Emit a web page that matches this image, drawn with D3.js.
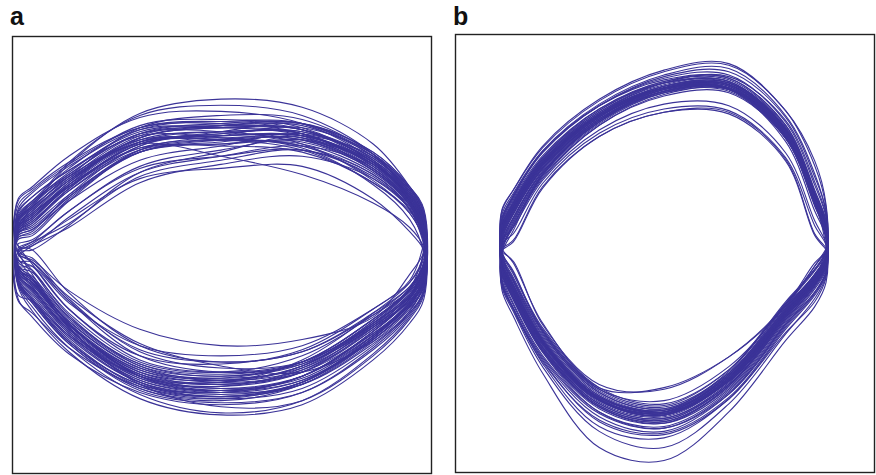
<!DOCTYPE html>
<html><head><meta charset="utf-8">
<script src="https://cdn.jsdelivr.net/npm/d3@7"></script>
<style>html,body{margin:0;padding:0;background:#fff;}svg{display:block;}</style>
</head><body>
<svg id="chart" width="876" height="475"></svg>
<script>
// Panel labels
const panelLabels = ["a", "b"];
// Shared horizontal stations (normalised units) at which each loop's arcs are read
const stations = [-1, -0.93, -0.75, -0.4, 0, 0.4, 0.75, 0.93, 1];
// Each loop: [upperLeft, upper x7 (-0.93..0.93), upperRight, lowerLeft, lower x7 (-0.93..0.93), lowerRight]
const loopsA = [
 [0.11, 0.18,0.31,0.50,0.54,0.51,0.35,0.20, 0.06, -0.10, -0.16,-0.35,-0.58,-0.64,-0.57,-0.36,-0.22, -0.10],
 [0.17, 0.24,0.37,0.57,0.58,0.52,0.34,0.18, 0.04, -0.05, -0.08,-0.29,-0.54,-0.60,-0.55,-0.37,-0.25, -0.14],
 [0.07, 0.10,0.24,0.44,0.51,0.57,0.45,0.28, 0.14, -0.13, -0.20,-0.40,-0.62,-0.65,-0.54,-0.31,-0.16, -0.02],
 [0.15, 0.21,0.36,0.60,0.66,0.64,0.47,0.30, 0.16, -0.08, -0.11,-0.31,-0.55,-0.60,-0.52,-0.32,-0.18, -0.06],
 [0.01, 0.04,0.13,0.36,0.44,0.49,0.37,0.20, 0.02, 0.00, -0.06,-0.25,-0.52,-0.60,-0.56,-0.38,-0.24, 0.01],
 [0.19, 0.26,0.39,0.56,0.55,0.50,0.32,0.15, -0.02, 0.02, 0.00,-0.21,-0.47,-0.55,-0.50,-0.32,-0.20, -0.12],
 [0.09, 0.14,0.30,0.52,0.57,0.58,0.44,0.27, 0.12, -0.16, -0.25,-0.45,-0.68,-0.74,-0.66,-0.44,-0.28, -0.18],
 [0.13, 0.21,0.42,0.67,0.74,0.70,0.52,0.31, 0.18, -0.09, -0.14,-0.36,-0.62,-0.70,-0.66,-0.46,-0.31, -0.20],
 [-0.01, 0.03,0.15,0.35,0.40,0.41,0.25,0.09, 0.00, -0.02, -0.10,-0.33,-0.56,-0.62,-0.55,-0.34,-0.19, -0.01],
 [0.10, 0.16,0.32,0.53,0.56,0.55,0.40,0.24, 0.10, -0.12, -0.19,-0.39,-0.63,-0.69,-0.62,-0.40,-0.24, -0.12],
 [0.16, 0.23,0.36,0.54,0.54,0.49,0.33,0.19, 0.07, -0.02, -0.05,-0.20,-0.39,-0.47,-0.44,-0.33,-0.12, -0.01],
 [0.06, 0.09,0.27,0.51,0.58,0.62,0.48,0.31, 0.20, -0.15, -0.24,-0.45,-0.66,-0.70,-0.62,-0.41,-0.26, -0.16],
 [0.12, 0.19,0.34,0.55,0.60,0.59,0.43,0.26, 0.09, -0.11, -0.17,-0.37,-0.60,-0.66,-0.60,-0.39,-0.23, -0.11],
 [0.20, 0.28,0.41,0.59,0.60,0.56,0.39,0.22, 0.05, -0.07, -0.14,-0.38,-0.66,-0.77,-0.74,-0.52,-0.34, -0.22],
 [0.08, 0.12,0.27,0.48,0.52,0.53,0.39,0.22, 0.08, -0.14, -0.22,-0.42,-0.65,-0.71,-0.65,-0.43,-0.27, -0.15],
 [-0.01, 0.00,0.12,0.38,0.48,0.56,0.46,0.30, 0.15, -0.08, -0.18,-0.40,-0.63,-0.67,-0.58,-0.36,-0.20, -0.07],
 [0.14, 0.22,0.43,0.66,0.71,0.66,0.47,0.25, 0.06, -0.09, -0.14,-0.34,-0.57,-0.62,-0.56,-0.35,-0.20, -0.08],
 [0.09, 0.15,0.31,0.52,0.56,0.56,0.42,0.26, 0.11, -0.17, -0.28,-0.48,-0.71,-0.80,-0.74,-0.51,-0.33, -0.21],
 [0.11, 0.17,0.32,0.50,0.51,0.48,0.33,0.18, 0.04, -0.11, -0.17,-0.37,-0.59,-0.63,-0.55,-0.34,-0.19, -0.07],
 [0.03, 0.05,0.19,0.41,0.49,0.54,0.42,0.24, 0.06, 0.02, -0.07,-0.29,-0.52,-0.56,-0.49,-0.29,-0.15, 0.04],
 [0.16, 0.24,0.40,0.61,0.64,0.60,0.43,0.26, 0.12, -0.06, -0.10,-0.32,-0.57,-0.64,-0.59,-0.39,-0.24, -0.12],
 [0.10, 0.16,0.33,0.55,0.60,0.59,0.45,0.29, 0.16, -0.14, -0.23,-0.43,-0.65,-0.70,-0.62,-0.40,-0.23, -0.09],
 [0.00, 0.04,0.19,0.40,0.46,0.49,0.36,0.20, 0.05, -0.01, -0.12,-0.36,-0.62,-0.69,-0.64,-0.44,-0.28, -0.14],
 [0.15, 0.22,0.37,0.57,0.60,0.57,0.41,0.24, 0.09, -0.08, -0.13,-0.33,-0.56,-0.61,-0.55,-0.34,-0.19, -0.06],
 [0.08, 0.11,0.26,0.48,0.53,0.55,0.42,0.27, 0.13, -0.18, -0.30,-0.50,-0.73,-0.81,-0.76,-0.54,-0.36, -0.24],
 [0.12, 0.18,0.34,0.56,0.61,0.61,0.46,0.29, 0.14, -0.12, -0.19,-0.39,-0.62,-0.67,-0.60,-0.38,-0.22, -0.10],
 [0.18, 0.26,0.39,0.58,0.61,0.59,0.43,0.25, 0.08, -0.05, -0.06,-0.25,-0.49,-0.55,-0.50,-0.31,-0.18, -0.07],
 [0.05, 0.07,0.24,0.49,0.56,0.60,0.47,0.30, 0.18, -0.15, -0.25,-0.45,-0.66,-0.72,-0.65,-0.44,-0.28, -0.17],
 [0.11, 0.16,0.31,0.52,0.55,0.54,0.39,0.23, 0.07, -0.11, -0.18,-0.38,-0.61,-0.66,-0.59,-0.37,-0.21, -0.09],
 [0.14, 0.21,0.35,0.53,0.54,0.51,0.37,0.21, 0.06, -0.09, -0.15,-0.36,-0.59,-0.65,-0.60,-0.41,-0.27, -0.15],
 [0.09, 0.13,0.29,0.51,0.57,0.58,0.44,0.28, 0.15, -0.17, -0.26,-0.46,-0.68,-0.73,-0.65,-0.42,-0.25, -0.13],
 [0.25, 0.31,0.46,0.65,0.68,0.62,0.44,0.24, 0.08, -0.01, -0.04,-0.24,-0.50,-0.58,-0.55,-0.36,-0.23, -0.13],
 [0.07, 0.10,0.26,0.49,0.54,0.54,0.40,0.23, 0.10, -0.13, -0.21,-0.41,-0.64,-0.70,-0.64,-0.43,-0.26, -0.14],
 [0.12, 0.19,0.35,0.57,0.62,0.62,0.47,0.30, 0.17, -0.24, -0.33,-0.51,-0.70,-0.76,-0.70,-0.48,-0.31, -0.19],
 [0.09, 0.14,0.29,0.49,0.52,0.52,0.38,0.22, 0.09, -0.12, -0.19,-0.39,-0.61,-0.65,-0.57,-0.35,-0.19, -0.07],
 [-0.03, 0.02,0.11,0.33,0.42,0.46,0.35,0.20, 0.04, -0.04, -0.14,-0.38,-0.65,-0.72,-0.66,-0.45,-0.29, -0.18],
 [0.15, 0.23,0.38,0.59,0.63,0.62,0.46,0.28, 0.13, -0.10, -0.16,-0.37,-0.60,-0.64,-0.57,-0.37,-0.23, -0.11],
 [0.06, 0.08,0.25,0.48,0.54,0.56,0.43,0.26, 0.11, -0.15, -0.24,-0.44,-0.67,-0.73,-0.68,-0.47,-0.30, -0.16],
 [0.11, 0.17,0.33,0.54,0.58,0.57,0.42,0.25, 0.10, -0.08, -0.08,-0.26,-0.47,-0.52,-0.47,-0.29,-0.16, -0.04],
 [0.22, 0.29,0.42,0.60,0.63,0.59,0.42,0.24, 0.07, -0.22, -0.25,-0.42,-0.62,-0.68,-0.62,-0.42,-0.27, -0.16],
 [0.08, 0.13,0.30,0.53,0.58,0.57,0.41,0.23, 0.05, -0.12, -0.20,-0.41,-0.64,-0.69,-0.62,-0.40,-0.24, -0.12],
 [0.14, 0.20,0.34,0.53,0.56,0.56,0.43,0.27, 0.14, -0.16, -0.26,-0.46,-0.69,-0.75,-0.70,-0.49,-0.32, -0.20],
 [0.10, 0.15,0.32,0.55,0.61,0.62,0.48,0.31, 0.19, -0.09, -0.15,-0.35,-0.58,-0.63,-0.58,-0.38,-0.22, -0.08],
 [0.24, 0.30,0.43,0.60,0.62,0.57,0.40,0.23, 0.09, -0.25, -0.31,-0.48,-0.67,-0.72,-0.65,-0.43,-0.26, -0.13],
 [0.12, 0.20,0.36,0.52,0.46,0.37,0.23,0.11, 0.01, -0.10, -0.16,-0.37,-0.61,-0.68,-0.63,-0.42,-0.26, -0.14],
 [0.00, 0.02,0.16,0.38,0.46,0.51,0.41,0.25, 0.10, -0.02, -0.06,-0.23,-0.46,-0.57,-0.60,-0.45,-0.30, -0.16]
];
const loopsB = [
 [0.12, 0.26,0.53,0.83,1.00,1.02,0.72,0.30, 0.15, -0.10, -0.25,-0.58,-0.93,-1.02,-0.80,-0.38,-0.18, -0.06],
 [0.20, 0.33,0.60,0.89,1.06,1.08,0.79,0.40, 0.20, -0.04, -0.18,-0.51,-0.88,-0.98,-0.76,-0.34,-0.13, -0.02],
 [0.05, 0.20,0.48,0.79,0.97,0.99,0.69,0.27, 0.10, -0.15, -0.31,-0.63,-0.98,-1.07,-0.84,-0.43,-0.22, -0.09],
 [0.15, 0.29,0.55,0.84,1.00,0.99,0.67,0.24, 0.08, -0.07, -0.22,-0.55,-0.90,-1.00,-0.81,-0.41,-0.21, -0.10],
 [0.24, 0.37,0.64,0.93,1.11,1.15,0.86,0.55, 0.28, -0.02, -0.15,-0.49,-0.86,-0.96,-0.74,-0.32,-0.12, 0.00],
 [0.00, 0.16,0.45,0.77,0.95,0.97,0.69,0.28, 0.06, -0.20, -0.36,-0.67,-1.03,-1.12,-0.89,-0.46,-0.26, -0.14],
 [0.01, 0.06,0.39,0.70,0.85,0.85,0.56,0.10, 0.01, 0.00, -0.25,-0.58,-0.93,-1.02,-0.79,-0.38,-0.17, 0.00],
 [0.12, 0.25,0.52,0.82,1.00,1.02,0.72,0.31, 0.02, 0.01, -0.08,-0.45,-0.85,-0.85,-0.66,-0.35,-0.10, 0.01],
 [0.18, 0.33,0.61,0.90,1.08,1.12,0.83,0.47, 0.22, -0.05, -0.19,-0.53,-0.89,-0.99,-0.77,-0.36,-0.15, -0.04],
 [-0.02, 0.12,0.46,0.79,0.98,1.00,0.72,0.32, 0.08, -0.25, -0.41,-0.76,-1.22,-1.30,-1.00,-0.56,-0.35, -0.20],
 [0.10, 0.27,0.54,0.84,1.01,1.03,0.74,0.33, 0.14, -0.09, -0.26,-0.60,-0.95,-1.04,-0.82,-0.40,-0.19, -0.07],
 [0.08, 0.23,0.50,0.81,0.98,0.99,0.70,0.28, 0.12, -0.12, -0.28,-0.61,-0.96,-1.05,-0.83,-0.41,-0.20, -0.08],
 [0.14, 0.28,0.55,0.85,1.02,1.04,0.75,0.34, 0.16, -0.08, -0.23,-0.56,-0.91,-1.00,-0.78,-0.37,-0.17, -0.05],
 [0.11, 0.26,0.53,0.83,1.00,1.01,0.71,0.30, 0.13, -0.13, -0.29,-0.62,-0.97,-1.07,-0.86,-0.44,-0.22, -0.10],
 [0.06, 0.14,0.43,0.74,0.90,0.89,0.60,0.18, 0.04, -0.10, -0.24,-0.57,-0.92,-1.01,-0.79,-0.38,-0.17, -0.05],
 [0.03, 0.19,0.48,0.80,0.99,1.02,0.74,0.34, 0.14, -0.18, -0.34,-0.66,-1.01,-1.10,-0.88,-0.46,-0.24, -0.12],
 [0.13, 0.27,0.53,0.82,0.99,1.00,0.70,0.29, 0.09, -0.09, -0.24,-0.57,-0.92,-1.01,-0.81,-0.40,-0.20, -0.09],
 [0.10, 0.25,0.53,0.84,1.03,1.07,0.80,0.42, 0.21, -0.11, -0.26,-0.58,-0.91,-0.99,-0.75,-0.33,-0.12, -0.01],
 [0.22, 0.35,0.61,0.89,1.05,1.06,0.77,0.37, 0.17, -0.03, -0.17,-0.50,-0.87,-0.97,-0.76,-0.35,-0.15, -0.03],
 [-0.01, 0.15,0.44,0.77,0.96,0.99,0.72,0.33, 0.10, -0.22, -0.36,-0.70,-1.09,-1.16,-0.92,-0.51,-0.32, -0.17],
 [0.12, 0.26,0.53,0.83,1.00,1.01,0.72,0.31, 0.13, -0.10, -0.25,-0.57,-0.92,-1.01,-0.79,-0.38,-0.18, -0.06],
 [0.07, 0.22,0.50,0.80,0.97,0.98,0.69,0.29, 0.10, -0.14, -0.30,-0.62,-0.97,-1.06,-0.84,-0.42,-0.21, -0.09],
 [0.14, 0.29,0.56,0.86,1.04,1.06,0.77,0.36, 0.17, -0.02, -0.13,-0.50,-0.86,-0.93,-0.72,-0.34,-0.10, 0.00],
 [0.16, 0.30,0.57,0.86,1.03,1.04,0.74,0.33, 0.12, -0.08, -0.22,-0.56,-0.92,-1.02,-0.81,-0.40,-0.19, -0.07],
 [0.04, 0.20,0.49,0.80,0.98,1.00,0.72,0.33, 0.15, -0.16, -0.33,-0.65,-1.00,-1.09,-0.87,-0.45,-0.23, -0.11],
 [0.11, 0.25,0.52,0.82,0.99,1.00,0.70,0.29, 0.11, -0.11, -0.26,-0.59,-0.94,-1.03,-0.81,-0.40,-0.19, -0.08],
 [0.19, 0.34,0.60,0.89,1.07,1.10,0.82,0.45, 0.24, -0.05, -0.19,-0.52,-0.88,-0.98,-0.77,-0.36,-0.16, -0.05],
 [0.02, 0.18,0.47,0.79,0.98,1.00,0.71,0.31, 0.09, -0.19, -0.36,-0.68,-1.06,-1.14,-0.92,-0.49,-0.28, -0.15],
 [0.13, 0.27,0.54,0.83,1.00,1.00,0.70,0.30, 0.12, -0.09, -0.24,-0.57,-0.93,-1.02,-0.80,-0.39,-0.18, -0.07],
 [0.09, 0.24,0.51,0.82,1.00,1.02,0.73,0.32, 0.14, -0.12, -0.27,-0.60,-0.95,-1.04,-0.83,-0.42,-0.21, -0.09],
 [0.04, 0.10,0.41,0.72,0.87,0.86,0.57,0.15, 0.03, -0.07, -0.24,-0.56,-0.91,-1.00,-0.78,-0.37,-0.16, -0.04],
 [0.15, 0.29,0.56,0.85,1.03,1.04,0.75,0.34, 0.15, -0.08, -0.23,-0.56,-0.92,-1.01,-0.80,-0.39,-0.18, -0.06],
 [0.00, 0.17,0.46,0.78,0.97,1.00,0.73,0.33, 0.11, -0.21, -0.37,-0.69,-1.05,-1.13,-0.91,-0.48,-0.27, -0.14],
 [0.12, 0.27,0.54,0.83,1.00,1.02,0.73,0.32, 0.13, -0.10, -0.25,-0.58,-0.93,-1.02,-0.81,-0.40,-0.19, -0.07],
 [0.25, 0.37,0.63,0.92,1.10,1.14,0.86,0.52, 0.26, -0.01, -0.14,-0.48,-0.85,-0.95,-0.74,-0.33,-0.12, -0.01],
 [0.10, 0.26,0.53,0.84,1.01,1.03,0.74,0.33, 0.12, -0.11, -0.27,-0.60,-0.93,-1.00,-0.77,-0.36,-0.15, -0.04],
 [0.06, 0.22,0.50,0.81,0.99,1.01,0.71,0.31, 0.10, -0.14, -0.30,-0.62,-0.97,-1.06,-0.85,-0.43,-0.22, -0.10],
 [0.14, 0.28,0.55,0.84,1.01,1.02,0.72,0.31, 0.12, -0.08, -0.23,-0.56,-0.92,-1.01,-0.80,-0.39,-0.18, -0.06],
 [0.00, 0.05,0.38,0.70,0.85,0.84,0.55,0.09, 0.00, -0.01, -0.07,-0.46,-0.83,-0.86,-0.66,-0.34,-0.08, -0.01],
 [0.17, 0.31,0.57,0.87,1.04,1.05,0.76,0.35, 0.16, -0.07, -0.21,-0.55,-0.91,-1.00,-0.79,-0.38,-0.17, -0.05],
 [0.09, 0.24,0.52,0.83,1.01,1.03,0.75,0.35, 0.18, -0.13, -0.29,-0.63,-1.00,-1.10,-0.89,-0.47,-0.26, -0.13],
 [0.01, 0.14,0.47,0.80,1.00,1.00,0.70,0.30, 0.07, -0.23, -0.38,-0.72,-1.12,-1.22,-0.95,-0.52,-0.30, -0.16],
 [0.18, 0.32,0.58,0.87,1.03,1.03,0.73,0.32, 0.11, -0.06, -0.20,-0.54,-0.90,-0.99,-0.78,-0.37,-0.16, -0.04],
 [0.08, 0.23,0.51,0.81,0.98,0.99,0.69,0.28, 0.09, -0.13, -0.28,-0.61,-0.96,-1.05,-0.83,-0.41,-0.20, -0.08]
];

const svg = d3.select("#chart");
const lineColor = "#3b3398";

const panels = [
  { label: panelLabels[0], loops: loopsA, box: [12, 36, 432, 474], xd: [-1.03, 1.04], yd: [1.05, -1.1], lx: 10, ly: 25 },
  { label: panelLabels[1], loops: loopsB, box: [455, 34, 875, 473], xd: [-1.29, 1.302], yd: [1.333, -1.377], lx: 453, ly: 25 }
];

panels.forEach(p => {
  const [x0, y0, x1, y1] = p.box;
  const x = d3.scaleLinear().domain(p.xd).range([x0, x1]);
  const y = d3.scaleLinear().domain(p.yd).range([y0, y1]);
  const g = svg.append("g");
  const clipId = "clip" + p.label;
  svg.append("clipPath").attr("id", clipId).append("rect")
    .attr("x", x0).attr("y", y0).attr("width", x1 - x0).attr("height", y1 - y0);
  const lg = g.append("g").attr("clip-path", `url(#${clipId})`);
  const line = d3.line().x(d => x(d[0])).y(d => y(d[1])).curve(d3.curveCatmullRomClosed.alpha(0.5));
  p.loops.forEach(r => {
    const upperVals = r.slice(0, 9), lowerVals = r.slice(9, 18);
    const ring = [];
    stations.forEach((s, i) => ring.push([s, upperVals[i]]));
    for (let i = stations.length - 1; i >= 0; i--) {
      const isEnd = (i === 0 || i === stations.length - 1);
      if (isEnd && Math.abs(upperVals[i] - lowerVals[i]) < 1e-9) continue;
      ring.push([stations[i], lowerVals[i]]);
    }
    lg.append("path").attr("d", line(ring))
      .attr("fill", "none").attr("stroke", lineColor).attr("stroke-width", 1.1);
  });
  g.append("rect").attr("x", x0 + 0.5).attr("y", y0 + 0.5)
    .attr("width", x1 - x0 - 1).attr("height", y1 - y0 - 1)
    .attr("fill", "none").attr("stroke", "#222").attr("stroke-width", 1.4);
  svg.append("text").attr("x", p.lx).attr("y", p.ly).text(p.label)
    .attr("font-family", "Liberation Sans, Arial, sans-serif")
    .attr("font-weight", "bold").attr("font-size", 25).attr("fill", "#111");
});
</script>
</body></html>
